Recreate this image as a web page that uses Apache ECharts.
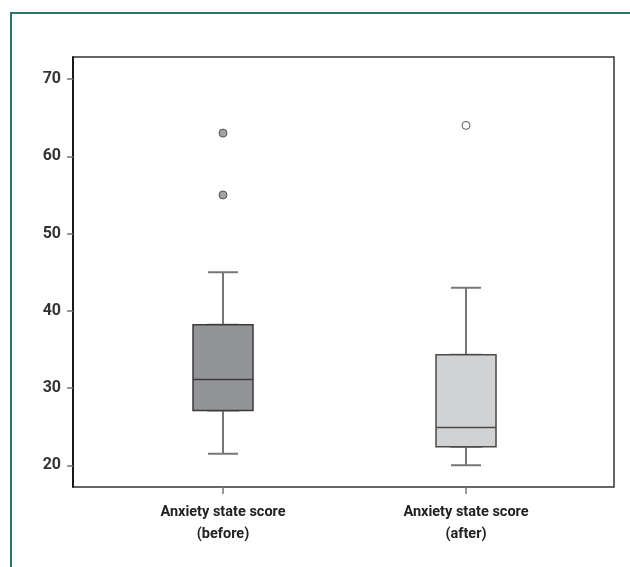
<!DOCTYPE html>
<html>
<head>
<meta charset="utf-8">
<script src="https://cdn.jsdelivr.net/npm/echarts@6/dist/echarts.min.js"></script>
<style>
html,body{margin:0;padding:0;background:#fff;}
#chart{width:630px;height:567px;}
</style>
</head>
<body>
<div id="chart"></div>
<script>
// ---- data ----
var categories = ['Anxiety state score\n(before)', 'Anxiety state score\n(after)'];
// [min, Q1, median, Q3, max]
var boxBefore = [21.5, 27.1, 31.1, 38.2, 45.0];
var boxAfter  = [20.0, 22.4, 24.9, 34.3, 43.0];
var outliersBefore = [63, 55];
var outliersAfter  = [64];
var yTicks = [20, 30, 40, 50, 60, 70];
var yMin = 17.2, yMax = 72.85;

var FONT = "Roboto, 'Liberation Sans', Arial, sans-serif";

var chart = echarts.init(document.getElementById('chart'), null, {renderer: 'canvas'});

function boxOnly(b) { return [b[1], b[1], b[2], b[3], b[3]]; }

var option = {
  animation: false,
  backgroundColor: '#fff',
  graphic: [{
    type: 'rect', shape: {x: 11, y: 13, width: 640, height: 600},
    style: {fill: null, stroke: '#2b7566', lineWidth: 2}, silent: true
  }],
  grid: [
    {left: 73, top: 57, width: 541, height: 430, show: true, borderColor: '#333', borderWidth: 1.5, backgroundColor: 'transparent'},
    {left: 101.5, top: 57, width: 486, height: 430, show: false}
  ],
  xAxis: [
    {gridIndex: 0, type: 'value', min: 0, max: 1, show: false},
    {gridIndex: 1, type: 'category', data: categories, boundaryGap: true,
     axisLine: {show: false},
     axisTick: {show: true, alignWithLabel: true, length: 7, lineStyle: {color: '#777', width: 1.5}},
     axisLabel: {margin: 14, color: '#222', fontFamily: FONT, fontWeight: 'bold', fontSize: 14.5, lineHeight: 22},
     splitLine: {show: false}},
    {gridIndex: 1, type: 'category', data: categories, boundaryGap: true, show: false}
  ],
  yAxis: [
    {gridIndex: 0, type: 'value', min: yMin, max: yMax,
     axisLine: {show: true, lineStyle: {color: '#000', width: 1.5}},
     axisTick: {show: true, length: 6, customValues: yTicks, lineStyle: {color: '#777', width: 1.5}},
     axisLabel: {margin: 12, customValues: yTicks, color: '#333', fontFamily: FONT, fontWeight: 'bold', fontSize: 16},
     splitLine: {show: false}},
    {gridIndex: 1, type: 'value', min: yMin, max: yMax, show: false}
  ],
  series: [
    {
      name: 'whiskers', type: 'boxplot', xAxisIndex: 2, yAxisIndex: 1,
      boxWidth: [30, 30],
      itemStyle: {color: '#fff', borderColor: '#777', borderWidth: 2},
      data: [boxBefore, boxAfter], z: 2
    },
    {
      name: 'boxes', type: 'boxplot', xAxisIndex: 1, yAxisIndex: 1,
      boxWidth: [60, 60],
      data: [
        {value: boxOnly(boxBefore), itemStyle: {color: '#939498', borderColor: '#3a3a3a', borderWidth: 1.5}},
        {value: boxOnly(boxAfter), itemStyle: {color: '#d1d2d4', borderColor: '#4a4a4a', borderWidth: 1.5}}
      ], z: 3
    },
    {
      name: 'outBefore', type: 'scatter', xAxisIndex: 1, yAxisIndex: 1,
      symbolSize: 8,
      itemStyle: {color: '#8c8c8e', borderColor: '#3a3a3a', borderWidth: 1},
      data: outliersBefore.map(function (v) { return [0, v]; }), z: 4
    },
    {
      name: 'outAfter', type: 'scatter', xAxisIndex: 1, yAxisIndex: 1,
      symbolSize: 8,
      itemStyle: {color: '#fff', borderColor: '#333', borderWidth: 1},
      data: outliersAfter.map(function (v) { return [1, v]; }), z: 4
    }
  ]
};
chart.setOption(option);
</script>
</body>
</html>
